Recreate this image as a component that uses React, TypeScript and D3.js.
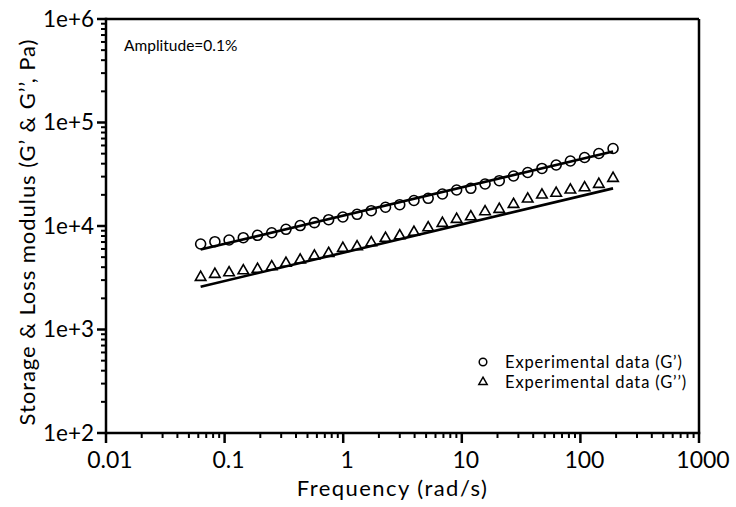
import React from "react";
import * as d3 from "d3";

const freq = [0.0628, 0.0828, 0.1091, 0.1438, 0.1895, 0.2497, 0.3292, 0.4338, 0.5718, 0.7536, 0.9933, 1.309, 1.725, 2.274, 2.997, 3.95, 5.206, 6.862, 9.045, 11.92, 15.71, 20.7, 27.29, 35.96, 47.4, 62.47, 82.34, 108.5, 143.0, 188.5];
const storageG1 = [6700, 7050, 7320, 7710, 8130, 8610, 9290, 10100, 10770, 11510, 12220, 12980, 14060, 15170, 16070, 17630, 18520, 20370, 22280, 23140, 25450, 27400, 30430, 32890, 35960, 38850, 42480, 45910, 50150, 56100];
const lossG2 = [3194, 3415, 3539, 3700, 3818, 4045, 4363, 4690, 5129, 5445, 6090, 6310, 6900, 7610, 8060, 8710, 9630, 10620, 11610, 12300, 13750, 14500, 16200, 18240, 19940, 20710, 22280, 23450, 25290, 28900];
const fitFreq = [0.0628, 188.5];
const fitG1 = [5930, 52500];
const fitG2 = [2590, 23100];
const xTickValues = [0.01, 0.1, 1, 10, 100, 1000];
const xTickLabels = ["0.01", "0.1", "1", "10", "100", "1000"];
const yTickValues = [1e2, 1e3, 1e4, 1e5, 1e6];
const yTickLabels = ["1e+2", "1e+3", "1e+4", "1e+5", "1e+6"];
const legendLabels = ["Experimental data (G\u2019)", "Experimental data (G\u2019\u2019)"];
const annotation = "Amplitude=0.1%";
const xTitle = "Frequency (rad/s)";
const yTitle = "Storage & Loss modulus (G\u2019 & G\u2019\u2019, Pa)";

const W = 736, H = 507;
const L = 106, R = 699, T = 19, B = 433;
const FONT = "Lato, 'Open Sans', sans-serif";

function minorTicks(lo: number, hi: number) {
  const out: number[] = [];
  for (let d = lo; d < hi; d *= 10) {
    for (let k = 2; k <= 9; k++) out.push(d * k);
  }
  return out;
}

export default function App() {
  const x = d3.scaleLog().domain([0.01, 1000]).range([L, R]);
  const y = d3.scaleLog().domain([1e2, 1e6]).range([B, T]);
  const line = d3.line<number>().x((_, i) => x(fitFreq[i])).y((v) => y(v));
  const tri = d3.symbol().type(d3.symbolTriangle).size(48)();
  const triLeg = d3.symbol().type(d3.symbolTriangle).size(30)();
  const xMinor = minorTicks(0.01, 1000);
  const yMinor = minorTicks(1e2, 1e6);

  return (
    <svg width={W} height={H} style={{ position: "absolute", left: 0, top: 0, background: "#fff" }} fontFamily={FONT}>
      <rect x={0} y={0} width={W} height={H} fill="#fff" />
      {/* fit lines */}
      <path d={line(fitG1) || ""} fill="none" stroke="#000" strokeWidth={2.6} />
      <path d={line(fitG2) || ""} fill="none" stroke="#000" strokeWidth={2.6} />
      {/* data */}
      {freq.map((f, i) => (
        <circle key={"c" + i} cx={x(f)} cy={y(storageG1[i])} r={5} fill="none" stroke="#000" strokeWidth={1.6} />
      ))}
      {freq.map((f, i) => (
        <path key={"t" + i} d={tri} transform={`translate(${x(f)},${y(lossG2[i])})`} fill="none" stroke="#000" strokeWidth={1.6} />
      ))}
      {/* frame */}
      <line x1={L} x2={R} y1={T} y2={T} stroke="#000" strokeWidth={2.5} />
      <line x1={R} x2={R} y1={T} y2={B} stroke="#000" strokeWidth={2.5} />
      <line x1={L} x2={R + 1.25} y1={B} y2={B} stroke="#000" strokeWidth={2.5} />
      <line x1={L} x2={L} y1={T - 1.25} y2={B + 1.25} stroke="#000" strokeWidth={2.5} />
      {/* x ticks */}
      {xTickValues.map((v) => (
        <line key={"xt" + v} x1={x(v)} x2={x(v)} y1={B} y2={B + 10} stroke="#000" strokeWidth={2.5} />
      ))}
      {xMinor.map((v, i) => (
        <line key={"xm" + i} x1={x(v)} x2={x(v)} y1={B} y2={B + 5} stroke="#000" strokeWidth={2} />
      ))}
      {xTickValues.map((v, i) => (
        <text key={"xl" + v} x={x(v) + 4} y={468} textAnchor="middle" fontSize={23}>{xTickLabels[i]}</text>
      ))}
      {/* y ticks */}
      {yTickValues.map((v) => (
        <line key={"yt" + v} x1={L - 9} x2={L} y1={y(v)} y2={y(v)} stroke="#000" strokeWidth={2.5} />
      ))}
      {yMinor.map((v, i) => (
        <line key={"ym" + i} x1={L - 5} x2={L} y1={y(v)} y2={y(v)} stroke="#000" strokeWidth={2} />
      ))}
      {yTickValues.map((v, i) => (
        <text key={"yl" + v} x={94} y={y(v)} dy="0.35em" textAnchor="end" fontSize={22.5}>{yTickLabels[i]}</text>
      ))}
      {/* titles */}
      <text x={392.5} y={495.5} textAnchor="middle" fontSize={22} letterSpacing={1.45}>{xTitle}</text>
      <text transform="translate(34.5,232) rotate(-90)" textAnchor="middle" fontSize={22} letterSpacing={0.95}>{yTitle}</text>
      <text x={124} y={51} fontSize={15.5}>{annotation}</text>
      {/* legend */}
      <circle cx={483} cy={362} r={3.8} fill="none" stroke="#000" strokeWidth={1.5} />
      <path d={triLeg} transform="translate(483,382)" fill="none" stroke="#000" strokeWidth={1.5} />
      <text x={505} y={362} dy="0.35em" fontSize={16.5} letterSpacing={0.85}>{legendLabels[0]}</text>
      <text x={505} y={382} dy="0.35em" fontSize={16.5} letterSpacing={0.85}>{legendLabels[1]}</text>
    </svg>
  );
}
